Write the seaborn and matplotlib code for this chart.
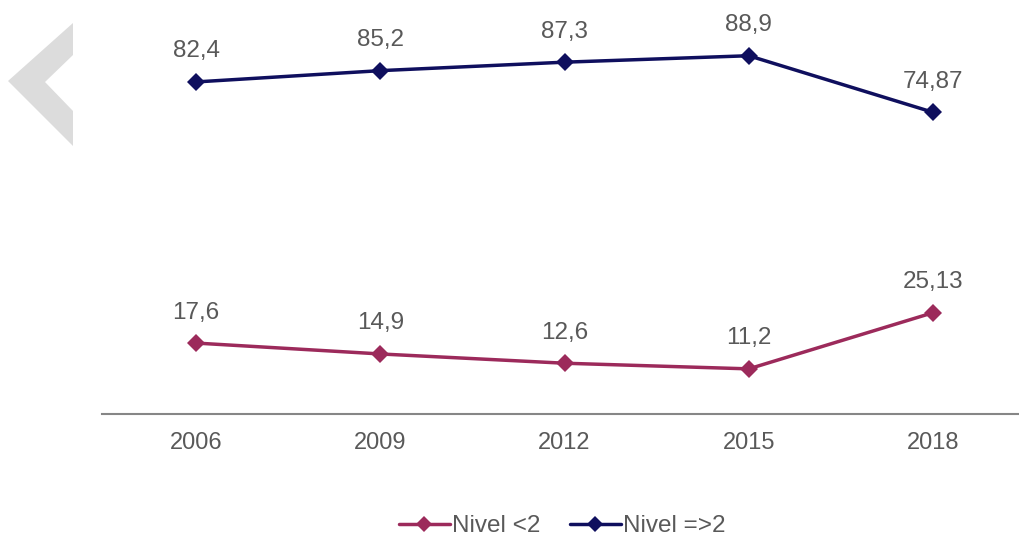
import pandas as pd
import seaborn as sns
import matplotlib.pyplot as plt
from matplotlib.patches import Polygon
from matplotlib.lines import Line2D

years = ["2006", "2009", "2012", "2015", "2018"]
nivel_bajo = [17.6, 14.9, 12.6, 11.2, 25.13]
nivel_alto = [82.4, 85.2, 87.3, 88.9, 74.87]
etiquetas_bajo = ["17,6", "14,9", "12,6", "11,2", "25,13"]
etiquetas_alto = ["82,4", "85,2", "87,3", "88,9", "74,87"]
series = ["Nivel <2", "Nivel =>2"]
colores = ["#9c2a5b", "#0f0f5e"]

df = pd.DataFrame({
    "year": years * 2,
    "valor": nivel_bajo + nivel_alto,
    "serie": [series[0]] * 5 + [series[1]] * 5,
})

sns.set_style("white")
plt.rcParams["font.family"] = ["Liberation Sans", "DejaVu Sans"]
text_col = "#595959"

fig = plt.figure(figsize=(10.19, 5.4), dpi=100)
ax = fig.add_axes([102 / 1019, 126 / 540, 917 / 1019, 403 / 540])

sns.lineplot(data=df, x="year", y="valor", hue="serie", hue_order=series,
             palette=colores, marker="D", markersize=9, linewidth=2.5,
             markeredgewidth=0, sort=False, legend=False, ax=ax)

for etiquetas, valores in [(etiquetas_bajo, nivel_bajo), (etiquetas_alto, nivel_alto)]:
    for i, (t, v) in enumerate(zip(etiquetas, valores)):
        ax.annotate(t, (i, v), xytext=(0, 22), textcoords="offset points",
                    ha="center", va="center", fontsize=17.5, color=text_col)

ax.set_xlim(-0.511, 4.467)
ax.set_ylim(0, 100)
ax.set_xlabel("")
ax.set_ylabel("")
ax.set_yticks([])
ax.tick_params(axis="x", length=0, pad=13, labelsize=17, labelcolor=text_col)
for s in ["top", "right", "left"]:
    ax.spines[s].set_visible(False)
ax.spines["bottom"].set_color("#868686")
ax.spines["bottom"].set_linewidth(1.5)

handles = [Line2D([], [], color=c, marker="D", markersize=8, linewidth=2.5,
                  markeredgewidth=0) for c in colores]
fig.legend(handles, series, loc="center", bbox_to_anchor=(562 / 1019, 1 - 526 / 540),
           ncol=2, frameon=False, fontsize=17.5, handlelength=2.1, handletextpad=0.1,
           columnspacing=1.2, labelcolor=text_col)

# decorative grey chevron on the left
chevron = Polygon([(8, 459), (73, 517), (73, 485), (45, 458), (73, 429), (73, 394)],
                  closed=True, facecolor="#dcdcdc", edgecolor="none")
chevron.set_transform(fig.dpi_scale_trans)
chevron.set_xy([(x / 100, y / 100) for x, y in chevron.get_xy()])
fig.patches.append(chevron)

fig.savefig("out.png", dpi=100)
